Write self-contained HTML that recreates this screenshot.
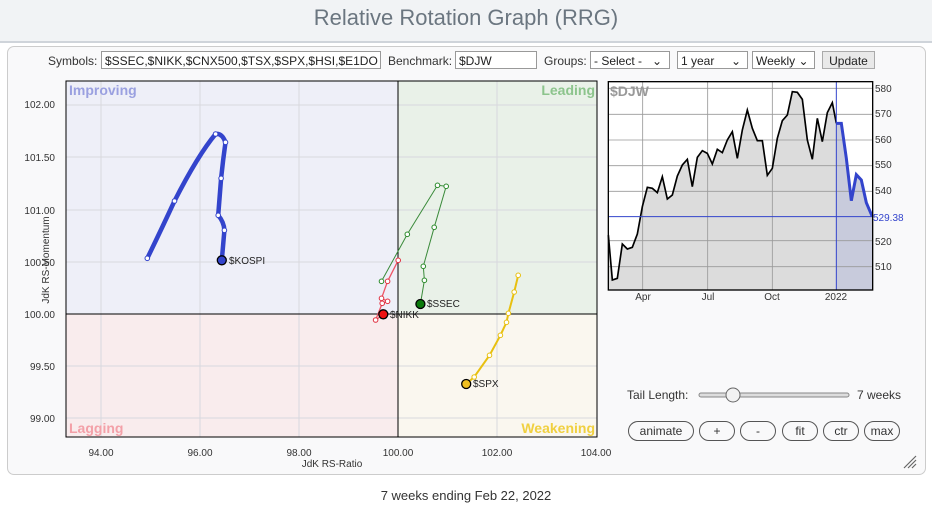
<!DOCTYPE html>
<html><head><meta charset="utf-8"><style>
body{margin:0;width:932px;height:507px;background:#fff;font-family:"Liberation Sans",sans-serif;position:relative;overflow:hidden}
.a{position:absolute}
.hdr{left:0;top:0;width:932px;height:41px;background:#f1f3f5;border-bottom:2px solid #cfd4da}
.title{left:0;width:932px;top:5px;text-align:center;font-size:22px;color:#6b7680}
.frame{left:7px;top:46px;width:917px;height:427px;border:1px solid #ccc;border-radius:7px;background:#f9f9fa}
.lbl{font-size:12px;color:#333}
.in{border:1px solid #999;background:#fff;font-size:12px;height:18px;line-height:18px;padding-left:3px;box-sizing:border-box;color:#222;white-space:nowrap;overflow:hidden}
.btn{border:1px solid #555;border-radius:10px;height:20px;font-size:12px;color:#333;text-align:center;line-height:19px;box-sizing:border-box;background:#f9f9fa}
</style></head><body>
<div class="a hdr"></div>
<div class="a title">Relative Rotation Graph (RRG)</div>
<div class="a frame"></div>
<div class="a lbl" style="left:48px;top:54px">Symbols:</div>
<div class="a in" style="left:101px;top:51px;width:280px">$SSEC,$NIKK,$CNX500,$TSX,$SPX,$HSI,$E1DO</div>
<div class="a lbl" style="left:388px;top:54px">Benchmark:</div>
<div class="a in" style="left:455px;top:51px;width:82px">$DJW</div>
<div class="a lbl" style="left:544px;top:54px">Groups:</div>
<div class="a in" style="left:590px;top:51px;width:80px">- Select - &nbsp;&nbsp;⌄</div>
<div class="a in" style="left:677px;top:51px;width:71px">1 year &nbsp;&nbsp;&nbsp;&nbsp;⌄</div>
<div class="a in" style="left:752px;top:51px;width:63px">Weekly ⌄</div>
<div class="a in" style="left:822px;top:51px;width:53px;background:#e9e9e9;text-align:center;padding:0;border-color:#aaa">Update</div>

<svg class="a" style="left:0;top:0" width="932" height="507">
<g font-family="Liberation Sans, sans-serif">
<rect x="66" y="81" width="332" height="233" fill="#eeeff8"/>
<rect x="398" y="81" width="199" height="233" fill="#e9f1e8"/>
<rect x="66" y="314" width="332" height="123" fill="#f9eced"/>
<rect x="398" y="314" width="199" height="123" fill="#faf7ef"/>
<g stroke="#d8d8de" stroke-width="1">
<line x1="101" y1="81" x2="101" y2="437"/><line x1="200" y1="81" x2="200" y2="437"/><line x1="299" y1="81" x2="299" y2="437"/><line x1="497" y1="81" x2="497" y2="437"/>
<line x1="66" y1="105" x2="597" y2="105"/><line x1="66" y1="157" x2="597" y2="157"/><line x1="66" y1="210" x2="597" y2="210"/><line x1="66" y1="262" x2="597" y2="262"/><line x1="66" y1="366" x2="597" y2="366"/><line x1="66" y1="418" x2="597" y2="418"/>
</g>
<line x1="398" y1="81" x2="398" y2="437" stroke="#000"/>
<line x1="66" y1="314" x2="597" y2="314" stroke="#000"/>
<rect x="66" y="81" width="531" height="356" fill="none" stroke="#000"/>
<g font-size="14" font-weight="bold">
<text x="69" y="95" fill="#9aa0e0">Improving</text>
<text x="595" y="95" fill="#8cc48c" text-anchor="end">Leading</text>
<text x="69" y="433" fill="#f3a0a8">Lagging</text>
<text x="595" y="433" fill="#f0d040" text-anchor="end">Weakening</text>
</g>
<g font-size="10" fill="#333" text-anchor="end">
<text x="55" y="108">102.00</text><text x="55" y="161">101.50</text><text x="55" y="214">101.00</text><text x="55" y="266">100.50</text><text x="55" y="318">100.00</text><text x="55" y="370">99.50</text><text x="55" y="422">99.00</text>
</g>
<g font-size="10" fill="#333" text-anchor="middle">
<text x="101" y="456">94.00</text><text x="200" y="456">96.00</text><text x="299" y="456">98.00</text><text x="398" y="456">100.00</text><text x="497" y="456">102.00</text><text x="596" y="456">104.00</text>
<text x="332" y="467">JdK RS-Ratio</text>
<text transform="translate(49,260) rotate(-90)">JdK RS-Momentum</text>
</g>
<!-- KOSPI -->
<path d="M147.3,258.3 Q162,228 174.5,201 Q198,155 215.6,134 Q222,133 225.5,142.3 Q223,160 221.1,178.3 L218.2,215.3 Q224,222 224.4,230.3 L221.8,260.3" fill="none" stroke="#3344cc" stroke-width="4.5" stroke-linejoin="round"/>
<g fill="#fff" stroke="#3344cc" stroke-width="1"><circle cx="147.3" cy="258.3" r="2.3"/><circle cx="174.5" cy="201" r="2.3"/><circle cx="215.6" cy="134" r="2.3"/><circle cx="225.5" cy="142.3" r="2.3"/><circle cx="221.1" cy="178.3" r="2.3"/><circle cx="218.2" cy="215.3" r="2.3"/><circle cx="224.4" cy="230.3" r="2.3"/></g>
<circle cx="221.8" cy="260.3" r="4.5" fill="#3344cc" stroke="#000" stroke-width="1.3"/>
<text x="229" y="264" font-size="10" fill="#222">$KOSPI</text>
<!-- SSEC -->
<polyline points="381.5,281.3 407.3,234.3 437.5,185.3 446.2,186.3 434.2,227.3 423.3,266.3 424.4,280.3 420.4,304" fill="none" stroke="#3a8a3a" stroke-width="1"/>
<g fill="#fff" stroke="#2a8a2a"><circle cx="381.5" cy="281.3" r="2.3"/><circle cx="407.3" cy="234.3" r="2.3"/><circle cx="437.5" cy="185.3" r="2.3"/><circle cx="446.2" cy="186.3" r="2.3"/><circle cx="434.2" cy="227.3" r="2.3"/><circle cx="423.3" cy="266.3" r="2.3"/><circle cx="424.4" cy="280.3" r="2.3"/></g>
<circle cx="420.4" cy="304" r="4.5" fill="#0a7a0a" stroke="#000" stroke-width="1.3"/>
<text x="427" y="307" font-size="10" fill="#222">$SSEC</text>
<!-- NIKK -->
<polyline points="398.2,260.3 387.6,281.3 381.5,298.3 387.6,301.3 382.2,303.3 375.6,320 383.3,314.3" fill="none" stroke="#ee5566" stroke-width="1.3"/>
<g fill="#fff" stroke="#e03040"><circle cx="398.2" cy="260.3" r="2.3"/><circle cx="387.6" cy="281.3" r="2.3"/><circle cx="381.5" cy="298.3" r="2.3"/><circle cx="387.6" cy="301.3" r="2.3"/><circle cx="382.2" cy="303.3" r="2.3"/><circle cx="375.6" cy="320" r="2.3"/></g>
<circle cx="383.3" cy="314.3" r="4.5" fill="#ee1111" stroke="#000" stroke-width="1.3"/>
<text x="390" y="318" font-size="10" fill="#222">$NIKK</text>
<!-- SPX -->
<path d="M518.2,275.3 L514.2,292 L508.4,313.3 L506.5,322.3 L500.4,335.3 L489.5,355.3 L474.2,377 L466.2,384" fill="none" stroke="#e8c010" stroke-width="2"/>
<g fill="#fff" stroke="#e8c010"><circle cx="518.2" cy="275.3" r="2.3"/><circle cx="514.2" cy="292" r="2.3"/><circle cx="508.4" cy="313.3" r="2.3"/><circle cx="506.5" cy="322.3" r="2.3"/><circle cx="500.4" cy="335.3" r="2.3"/><circle cx="489.5" cy="355.3" r="2.3"/><circle cx="474.2" cy="377" r="2.3"/></g>
<circle cx="466.2" cy="384" r="4.5" fill="#f0c020" stroke="#000" stroke-width="1.3"/>
<text x="473" y="387" font-size="10" fill="#222">$SPX</text>

<!-- mini chart -->
<g transform="translate(600,70) scale(0.33333)">
<rect x="25" y="35" width="793" height="625" fill="#fff"/>
<polygon points="25,660 25,495 37,630 52,625 67,522 82,537 97,532 112,492 127,410 142,352 157,355 172,368 187,320 202,387 217,375 232,318 247,285 262,268 277,350 292,262 307,242 322,250 337,282 352,238 367,248 382,210 397,185 412,265 427,180 442,120 457,175 472,212 487,212 502,316 517,295 532,205 547,152 562,135 577,65 592,67 607,88 622,210 637,268 652,145 667,215 682,128 697,98 709,160 709,660" fill="#dcdcdc"/>
<polygon points="709,660 709,160 724,160 739,265 754,392 769,314 784,330 799,398 817,440 818,660" fill="#c8cbdc"/>
<g stroke="#999" stroke-width="2.5">
<line x1="128" y1="35" x2="128" y2="660"/><line x1="323" y1="35" x2="323" y2="660"/><line x1="517" y1="35" x2="517" y2="660"/>
<line x1="25" y1="55" x2="818" y2="55"/><line x1="25" y1="133" x2="818" y2="133"/><line x1="25" y1="210" x2="818" y2="210"/><line x1="25" y1="287" x2="818" y2="287"/><line x1="25" y1="364" x2="818" y2="364"/><line x1="25" y1="512" x2="818" y2="512"/><line x1="25" y1="590" x2="818" y2="590"/>
</g>
<polyline points="25,495 37,630 52,625 67,522 82,537 97,532 112,492 127,410 142,352 157,355 172,368 187,320 202,387 217,375 232,318 247,285 262,268 277,350 292,262 307,242 322,250 337,282 352,238 367,248 382,210 397,185 412,265 427,180 442,120 457,175 472,212 487,212 502,316 517,295 532,205 547,152 562,135 577,65 592,67 607,88 622,210 637,268 652,145 667,215 682,128 697,98 709,160" fill="none" stroke="#000" stroke-width="5"/>
<polyline points="709,160 724,160 739,265 754,392 769,314 784,330 799,398 817,440" fill="none" stroke="#3344cc" stroke-width="9"/>
<line x1="709" y1="35" x2="709" y2="660" stroke="#3344cc" stroke-width="3"/>
<line x1="25" y1="440" x2="818" y2="440" stroke="#3344cc" stroke-width="3"/>
<rect x="25" y="35" width="793" height="625" fill="none" stroke="#000" stroke-width="4"/>
</g>
<g font-size="10" fill="#333">
<text x="610" y="96" font-size="14" font-weight="bold" fill="#999">$DJW</text>
<text x="875" y="92">580</text><text x="875" y="117">570</text><text x="875" y="143">560</text><text x="875" y="168">550</text><text x="875" y="194">540</text><text x="875" y="245">520</text><text x="875" y="270">510</text>
<text x="873" y="221" fill="#3344cc">529.38</text>
<text x="643" y="300" text-anchor="middle">Apr</text><text x="708" y="300" text-anchor="middle">Jul</text><text x="772" y="300" text-anchor="middle">Oct</text><text x="836" y="300" text-anchor="middle">2022</text>
</g>
<!-- slider -->
<text x="627" y="399" font-size="12" fill="#333">Tail Length:</text>
<rect x="699" y="393" width="150" height="4" rx="2" fill="#ddd" stroke="#888"/>
<circle cx="733" cy="395" r="7" fill="#f2f2f2" stroke="#666"/>
<text x="857" y="399" font-size="12" fill="#333">7 weeks</text>
<path d="M904,468 L916,456 M908,468 L916,460 M912,468 L916,464" stroke="#666" stroke-width="1.2"/>
<text x="466" y="500" font-size="13" fill="#333" text-anchor="middle">7 weeks ending Feb 22, 2022</text>
</g></svg>
<div class="a btn" style="left:628px;top:421px;width:66px">animate</div>
<div class="a btn" style="left:699px;top:421px;width:36px">+</div>
<div class="a btn" style="left:740px;top:421px;width:36px">-</div>
<div class="a btn" style="left:782px;top:421px;width:36px">fit</div>
<div class="a btn" style="left:823px;top:421px;width:36px">ctr</div>
<div class="a btn" style="left:864px;top:421px;width:36px">max</div>
</body></html>
